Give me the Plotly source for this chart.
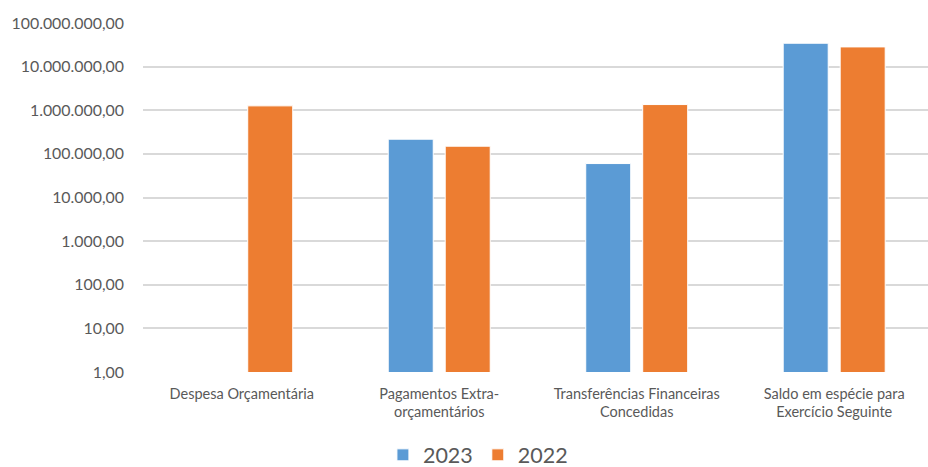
import plotly.graph_objects as go

categories = ["Despesa Orçamentária", "Pagamentos Extra-<br>orçamentários",
              "Transferências Financeiras<br>Concedidas", "Saldo em espécie para<br>Exercício Seguinte"]
values_2023 = [None, 217000, 60000, 34400000]
values_2022 = [1260000, 150000, 1350000, 28300000]
tick_vals = [1, 10, 100, 1000, 10000, 100000, 1000000, 10000000, 100000000]
tick_text = ["1,00", "10,00", "100,00", "1.000,00", "10.000,00", "100.000,00",
             "1.000.000,00", "10.000.000,00", "100.000.000,00"]

FONT = "Lato, Open Sans, sans-serif"

fig = go.Figure()
fig.add_trace(go.Bar(name="2023", x=categories, y=values_2023,
                     marker=dict(color="#5B9BD5", line=dict(color="#FFFFFF", width=1))))
fig.add_trace(go.Bar(name="2022", x=categories, y=values_2022,
                     marker=dict(color="#ED7D31", line=dict(color="#FFFFFF", width=1))))

fig.update_layout(
    width=928, height=467,
    margin=dict(l=143, r=0, t=23, b=95, autoexpand=False),
    paper_bgcolor="white", plot_bgcolor="white",
    barmode="group", bargap=0.423, bargroupgap=0.21,
    font=dict(family=FONT, color="#595959"),
    legend=dict(orientation="h", xref="container", yref="container",
                x=0.515, xanchor="center", y=0.026, yanchor="middle",
                font=dict(size=21.5, color="#595959"), itemwidth=30, traceorder="normal"),
    showlegend=True,
)
fig.update_xaxes(range=[-0.5, 3.475], showgrid=False, showline=False, zeroline=False,
                 tickfont=dict(size=14.5, color="#595959"), ticks="", ticklabelstandoff=11)
fig.update_yaxes(type="log", range=[0, 8], tickvals=tick_vals, ticktext=tick_text,
                 showgrid=True, gridcolor="#D9D9D9", gridwidth=1.5, zeroline=False,
                 showline=False, tickfont=dict(size=15.9, color="#595959"),
                 ticks="", ticklabelstandoff=18)

fig.write_html("out.html", config={"displayModeBar": False},
               post_script=("document.body.style.margin='0';"
                            "document.body.style.overflow='hidden';"
                            "document.documentElement.style.overflow='hidden';"))
